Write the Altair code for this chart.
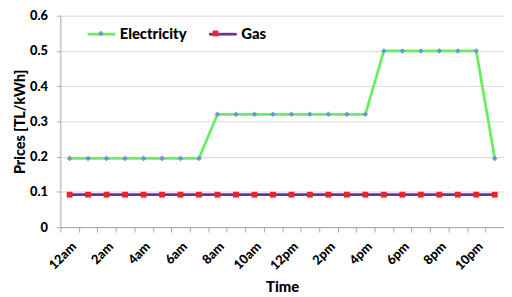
import altair as alt
import pandas as pd

hours = ["12am", "1am", "2am", "3am", "4am", "5am", "6am", "7am", "8am", "9am", "10am", "11am",
         "12pm", "1pm", "2pm", "3pm", "4pm", "5pm", "6pm", "7pm", "8pm", "9pm", "10pm", "11pm"]
shown_labels = ["12am", "2am", "4am", "6am", "8am", "10am", "12pm", "2pm", "4pm", "6pm", "8pm", "10pm"]
electricity = [0.195, 0.195, 0.195, 0.195, 0.195, 0.195, 0.195, 0.195,
               0.32, 0.32, 0.32, 0.32, 0.32, 0.32, 0.32, 0.32, 0.32,
               0.5, 0.5, 0.5, 0.5, 0.5, 0.5, 0.195]
gas = [0.092, 0.092, 0.092, 0.092, 0.092, 0.092, 0.092, 0.092, 0.092, 0.092, 0.092, 0.092,
       0.092, 0.092, 0.092, 0.092, 0.092, 0.092, 0.092, 0.092, 0.092, 0.092, 0.092, 0.092]
series_names = ["Electricity", "Gas"]
marker_names = ["Electricity_m", "Gas_m"]
line_colors = ["#66F060", "#7030A0"]
marker_colors = ["#6F97C8", "#E8262B"]
marker_paths = ["M0,-0.2L0.2,0L0,0.2L-0.2,0Z", "M-0.21,-0.21H0.21V0.21H-0.21Z"]

rows = []
for h, e, g in zip(hours, electricity, gas):
    rows.append({"hour": h, "price": e, "series": "Electricity", "marker": "Electricity_m"})
    rows.append({"hour": h, "price": g, "series": "Gas", "marker": "Gas_m"})
df = pd.DataFrame(rows)

FONT = "Lato"
W = 900
label_list = "[" + ",".join("'" + s + "'" for s in shown_labels) + "]"

x_enc = alt.X(
    "hour:N", sort=hours,
    scale=alt.Scale(type="band", paddingInner=0, paddingOuter=0),
    axis=alt.Axis(
        title="Time", labelAngle=-45, labelAlign="right", labelBaseline="top",
        labelExpr="indexof(" + label_list + ", datum.value) >= 0 ? datum.value : ''",
        tickBand="extent", tickSize=5, labelPadding=8, grid=False,
        domainColor="#A6A6A6", tickColor="#A6A6A6",
        labelFont=FONT, labelFontWeight=W, labelFontSize=13, labelColor="#000",
        titleFont=FONT, titleFontWeight=W, titleFontSize=15, titleColor="#000",
        titlePadding=7,
    ),
)
y_enc = alt.Y(
    "price:Q",
    scale=alt.Scale(domain=[0, 0.6], nice=False),
    axis=alt.Axis(
        title="Prices [TL/kWh]", values=[0, 0.1, 0.2, 0.3, 0.4, 0.5, 0.6], format=".1~f",
        tickSize=4, labelPadding=9, gridColor="#D9D9D9", domainColor="#A6A6A6",
        tickColor="#A6A6A6",
        labelFont=FONT, labelFontWeight=W, labelFontSize=13, labelColor="#000",
        titleFont=FONT, titleFontWeight=W, titleFontSize=14.5, titleColor="#000",
        titlePadding=2,
    ),
)

legend_common = dict(
    title=None, orient="none", legendX=26, legendY=3, direction="horizontal",
    symbolSize=784, labelFont=FONT, labelFontWeight=W, labelFontSize=15,
    labelColor="#000",
)

lines = alt.Chart(df).mark_line(strokeWidth=2.8).encode(
    x=x_enc, y=y_enc,
    stroke=alt.Stroke("series:N", scale=alt.Scale(domain=series_names, range=line_colors),
                      legend=alt.Legend(symbolType="stroke", symbolStrokeWidth=2.8,
                                        labelOffset=3, columnPadding=16, **legend_common)),
)

marker_legend = dict(labelExpr="''", labelOffset=3, columnPadding=83, **legend_common)
points = alt.Chart(df).mark_point(filled=True, size=784, opacity=1).encode(
    x=x_enc, y=y_enc,
    fill=alt.Fill("marker:N", scale=alt.Scale(domain=marker_names, range=marker_colors),
                  legend=alt.Legend(**marker_legend)),
    shape=alt.Shape("marker:N", scale=alt.Scale(domain=marker_names, range=marker_paths),
                    legend=alt.Legend(**marker_legend)),
)

chart = alt.layer(lines, points).properties(
    width=449, height=214,
    autosize=alt.AutoSizeParams(type="none"),
    padding={"left": 53, "top": 6, "right": 0, "bottom": 70},
).configure_view(stroke=None)

chart.save("out.html", embed_options={"renderer": "svg", "actions": False})
